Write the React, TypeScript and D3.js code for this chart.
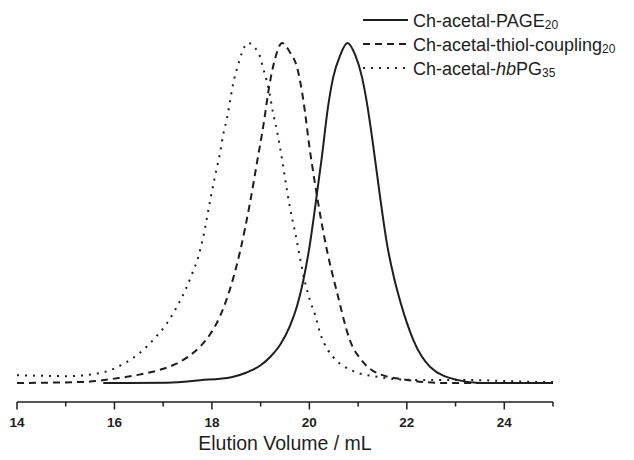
import React from 'react';
import * as d3 from 'd3';

// elution volume (mL) / normalised RI signal
const pageX = [15.77, 17.08, 17.76, 18.4, 18.7, 19.0, 19.2, 19.4, 19.6, 19.75, 19.87, 20.0, 20.12, 20.26, 20.38, 20.49, 20.63, 20.78, 20.94, 21.08, 21.18, 21.29, 21.45, 21.6, 21.74, 21.87, 22.0, 22.13, 22.48, 23.03, 23.5, 25.0];
const pageY = [0.003, 0.004, 0.011, 0.02, 0.033, 0.055, 0.08, 0.115, 0.17, 0.23, 0.3, 0.4, 0.52, 0.67, 0.81, 0.9, 0.963, 1.0, 0.965, 0.9, 0.825, 0.72, 0.55, 0.405, 0.31, 0.24, 0.18, 0.13, 0.05, 0.012, 0.003, 0.003];

const thiolX = [14.0, 15.35, 16.11, 16.46, 16.94, 17.2, 17.49, 17.76, 17.96, 18.17, 18.33, 18.58, 18.78, 18.95, 19.03, 19.09, 19.15, 19.3, 19.44, 19.6, 19.75, 19.85, 19.91, 19.97, 20.01, 20.05, 20.18, 20.36, 20.57, 20.83, 21.1, 21.39, 22.0, 22.83, 25.0];
const thiolY = [0.003, 0.006, 0.018, 0.026, 0.042, 0.055, 0.078, 0.11, 0.145, 0.2, 0.26, 0.39, 0.53, 0.67, 0.735, 0.79, 0.85, 0.956, 1.0, 0.973, 0.927, 0.856, 0.798, 0.73, 0.686, 0.648, 0.531, 0.393, 0.267, 0.129, 0.065, 0.032, 0.012, 0.003, 0.003];

const hbpgX = [14.0, 15.03, 15.7, 16.22, 16.52, 16.83, 17.08, 17.28, 17.45, 17.59, 17.72, 17.82, 17.96, 18.06, 18.17, 18.23, 18.31, 18.37, 18.43, 18.52, 18.62, 18.74, 18.89, 18.99, 19.05, 19.13, 19.19, 19.25, 19.34, 19.4, 19.6, 19.71, 19.91, 20.01, 20.12, 20.22, 20.38, 20.49, 20.9, 21.45, 22.13, 23.15, 24.8, 25.0];
const hbpgY = [0.026, 0.023, 0.032, 0.062, 0.091, 0.135, 0.179, 0.226, 0.274, 0.322, 0.373, 0.43, 0.535, 0.607, 0.68, 0.73, 0.78, 0.827, 0.877, 0.927, 0.973, 1.0, 0.985, 0.959, 0.927, 0.886, 0.848, 0.798, 0.739, 0.692, 0.519, 0.443, 0.299, 0.246, 0.202, 0.15, 0.1, 0.079, 0.038, 0.02, 0.012, 0.012, 0.006, 0.006];

const majorTicks = [14, 16, 18, 20, 22, 24];
const minorTicks = [15, 17, 19, 21, 23, 25];

const ink = '#1e1e1e';
const font = '"Liberation Sans", Arial, sans-serif';

export default function App() {
  const x = d3.scaleLinear().domain([14, 25]).range([17, 553]);
  const y = d3.scaleLinear().domain([0, 1]).range([384, 43]);
  const axisY = 402;

  const path = (xs: number[], ys: number[]) =>
    d3.line<number>()
      .x(d => x(d))
      .y((_, i) => y(ys[i]))
      .curve(d3.curveMonotoneX)(xs) || '';

  const series = [
    { d: path(pageX, pageY), dash: undefined as string | undefined },
    { d: path(thiolX, thiolY), dash: '7,5' },
    { d: path(hbpgX, hbpgY), dash: '2,6' },
  ];

  const legendRows = [20, 44, 68];

  return (
    <svg width={634} height={460} style={{ position: 'absolute', left: 0, top: 0, background: '#fff' }}>
      {series.map((s, i) => (
        <path key={i} d={s.d} fill="none" stroke={ink} strokeWidth={2} strokeDasharray={s.dash} />
      ))}

      {/* x axis */}
      <line x1={x(14)} x2={x(25)} y1={axisY} y2={axisY} stroke={ink} strokeWidth={1.5} />
      {majorTicks.map(t => (
        <g key={'M' + t}>
          <line x1={x(t)} x2={x(t)} y1={axisY} y2={axisY + 7.5} stroke={ink} strokeWidth={1.5} />
          <text x={x(t)} y={axisY + 25} textAnchor="middle" fontFamily={font} fontWeight="bold" fontSize={13.5} fill={ink}>{t}</text>
        </g>
      ))}
      {minorTicks.map(t => (
        <line key={'m' + t} x1={x(t)} x2={x(t)} y1={axisY} y2={axisY + 4.5} stroke={ink} strokeWidth={1.5} />
      ))}
      <text x={x(19.5)} y={450} textAnchor="middle" fontFamily={font} fontSize={19.5} fill={ink}>Elution Volume / mL</text>

      {/* legend */}
      {series.map((s, i) => (
        <line key={'l' + i} x1={363} x2={408} y1={legendRows[i]} y2={legendRows[i]} stroke={ink} strokeWidth={2} strokeDasharray={s.dash} />
      ))}
      <text x={413} y={legendRows[0] + 7} fontFamily={font} fontSize={18} fill={ink}>
        Ch-acetal-PAGE<tspan fontSize={12} dy={2}>20</tspan>
      </text>
      <text x={413} y={legendRows[1] + 7} fontFamily={font} fontSize={18} fill={ink}>
        Ch-acetal-thiol-coupling<tspan fontSize={12} dy={2}>20</tspan>
      </text>
      <text x={413} y={legendRows[2] + 7} fontFamily={font} fontSize={18} fill={ink}>
        Ch-acetal-<tspan fontStyle="italic">hb</tspan>PG<tspan fontSize={12} dy={2}>35</tspan>
      </text>
    </svg>
  );
}
